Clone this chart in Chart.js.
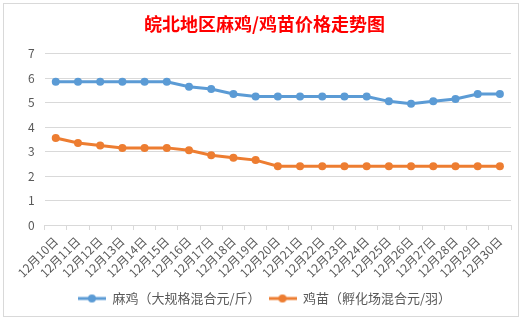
<!DOCTYPE html>
<html>
<head>
    <meta charset="UTF-8">
    <title>皖北地区麻鸡/鸡苗价格走势图</title>
    <script src="https://cdn.jsdelivr.net/npm/chart.js"></script>
    <style>
        body {
            margin: 0;
            background-color: #ffffff;
        }
    </style>
</head>
<body>
    <canvas id="priceChart" width="527" height="321"></canvas>

    <script>
        var dates = ['12月10日', '12月11日', '12月12日', '12月13日', '12月14日', '12月15日', '12月16日',
            '12月17日', '12月18日', '12月19日', '12月20日', '12月21日', '12月22日', '12月23日',
            '12月24日', '12月25日', '12月26日', '12月27日', '12月28日', '12月29日', '12月30日'];
        var maJi = [5.85, 5.85, 5.85, 5.85, 5.85, 5.85, 5.65, 5.55, 5.35, 5.25, 5.25,
            5.25, 5.25, 5.25, 5.25, 5.05, 4.95, 5.05, 5.15, 5.35, 5.35];
        var jiMiao = [3.55, 3.35, 3.25, 3.15, 3.15, 3.15, 3.05, 2.85, 2.75, 2.65, 2.4,
            2.4, 2.4, 2.4, 2.4, 2.4, 2.4, 2.4, 2.4, 2.4, 2.4];

        var blue = '#5B9BD5';
        var orange = '#ED7D31';
        var cjk = '"Noto Sans CJK SC", "Noto Sans", sans-serif';

        // little line-with-dot icon for the legend, like excel does
        function legendIcon(color) {
            var c = document.createElement('canvas');
            c.width = 28;
            c.height = 10;
            var g = c.getContext('2d');
            g.strokeStyle = color;
            g.lineWidth = 3;
            g.beginPath();
            g.moveTo(0, 5);
            g.lineTo(28, 5);
            g.stroke();
            g.fillStyle = color;
            g.beginPath();
            g.arc(14, 5, 4, 0, Math.PI * 2);
            g.fill();
            return c;
        }

        var chartBorder = {
            id: 'chartBorder',
            beforeDraw: function (chart) {
                var ctx = chart.ctx;
                ctx.save();
                ctx.fillStyle = '#ffffff';
                ctx.fillRect(0, 0, chart.width, chart.height);
                ctx.strokeStyle = '#d9d9d9';
                ctx.lineWidth = 1;
                ctx.strokeRect(3.5, 3.5, 515, 313);
                ctx.restore();
            }
        };

        var ctx = document.getElementById('priceChart').getContext('2d');
        var priceChart = new Chart(ctx, {
            type: 'line',
            data: {
                labels: dates,
                datasets: [{
                    label: '麻鸡（大规格混合元/斤）',
                    data: maJi,
                    borderColor: blue,
                    backgroundColor: blue,
                    borderWidth: 3,
                    pointRadius: 4,
                    pointBackgroundColor: blue,
                    pointBorderWidth: 0,
                    tension: 0,
                    fill: false
                }, {
                    label: '鸡苗（孵化场混合元/羽）',
                    data: jiMiao,
                    borderColor: orange,
                    backgroundColor: orange,
                    borderWidth: 3,
                    pointRadius: 4,
                    pointBackgroundColor: orange,
                    pointBorderWidth: 0,
                    tension: 0,
                    fill: false
                }]
            },
            options: {
                responsive: false,
                animation: false,
                layout: {
                    padding: { left: 18, right: 16, top: 4, bottom: 6 }
                },
                plugins: {
                    title: {
                        display: true,
                        text: '皖北地区麻鸡/鸡苗价格走势图',
                        color: '#FF0000',
                        font: { family: cjk, size: 18, weight: 'bold' },
                        padding: { top: 9, bottom: 19 }
                    },
                    legend: {
                        position: 'bottom',
                        labels: {
                            usePointStyle: true,
                            pointStyleWidth: 28,
                            color: '#595959',
                            font: { family: cjk, size: 13 },
                            padding: 8,
                            generateLabels: function (chart) {
                                var items = Chart.defaults.plugins.legend.labels.generateLabels(chart);
                                items.forEach(function (item, i) {
                                    item.pointStyle = legendIcon(chart.data.datasets[i].borderColor);
                                });
                                return items;
                            }
                        }
                    },
                    tooltip: { enabled: false }
                },
                scales: {
                    x: {
                        offset: true,
                        grid: {
                            offset: true,
                            drawOnChartArea: false,
                            drawTicks: true,
                            tickLength: 5,
                            color: '#d9d9d9'
                        },
                        border: { color: '#d9d9d9' },
                        ticks: {
                            color: '#595959',
                            font: { family: cjk, size: 12 },
                            maxRotation: 45,
                            minRotation: 45,
                            autoSkip: false,
                            padding: 4
                        }
                    },
                    y: {
                        min: 0,
                        max: 7,
                        ticks: {
                            stepSize: 1,
                            color: '#595959',
                            font: { family: cjk, size: 12 },
                            padding: 10
                        },
                        grid: {
                            color: '#d9d9d9',
                            drawTicks: false
                        },
                        border: { display: false }
                    }
                }
            },
            plugins: [chartBorder]
        });
    </script>
</body>
</html>
